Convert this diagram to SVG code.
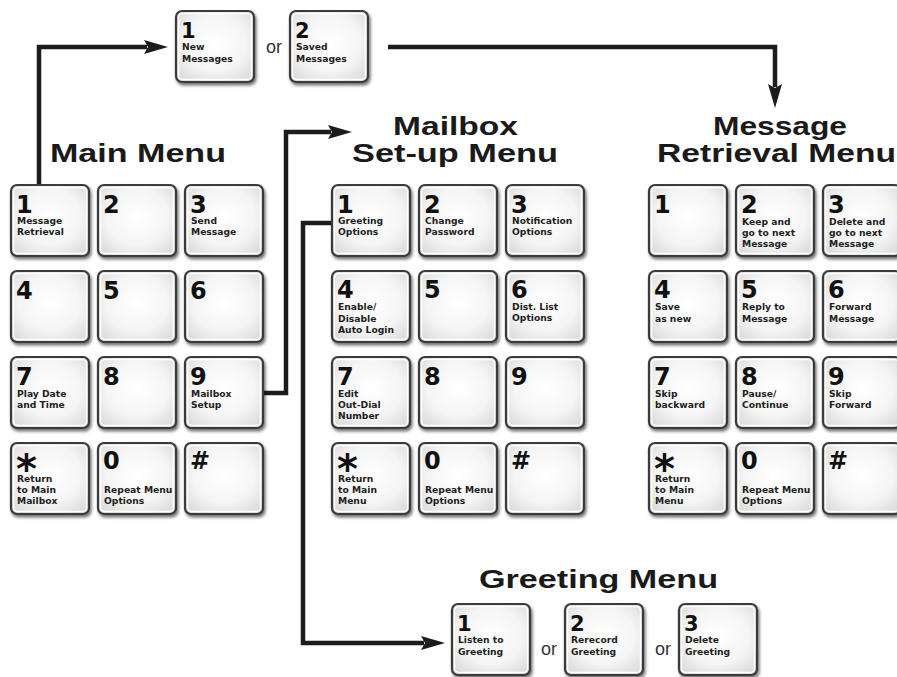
<svg xmlns="http://www.w3.org/2000/svg" xmlns:xlink="http://www.w3.org/1999/xlink" width="897" height="677" viewBox="0 0 897 677">
<defs>
<style>
.num{font-family:"DejaVu Sans","Liberation Sans",sans-serif;font-weight:bold;font-size:24px;fill:#111}
.snum{font-family:"DejaVu Sans","Liberation Sans",sans-serif;font-weight:bold;font-size:21px;fill:#111}
.ast{font-family:"DejaVu Sans","Liberation Sans",sans-serif;font-weight:bold;font-size:40px;fill:#111}
.lbl{font-family:"DejaVu Sans","Liberation Sans",sans-serif;font-weight:bold;font-size:9.2px;fill:#1e1e1e}
.title{font-family:"Liberation Sans",Arial,sans-serif;font-weight:bold;font-size:26.5px;fill:#1a1a1a}
.or{font-family:"Liberation Sans",Arial,sans-serif;font-size:18px;fill:#333}
.conn{fill:none;stroke:#1c1c1c;stroke-width:4.5;stroke-linejoin:miter}
</style>
<radialGradient id="kg" cx="0.5" cy="0.45" r="0.65">
<stop offset="0" stop-color="#ffffff"/>
<stop offset="0.6" stop-color="#f5f5f5"/>
<stop offset="1" stop-color="#dcdcdc"/>
</radialGradient>
<filter id="sh" x="-10%" y="-10%" width="130%" height="130%">
<feDropShadow dx="1.5" dy="2.5" stdDeviation="1.6" flood-color="#000" flood-opacity="0.55"/>
</filter>
<g id="keyshape">
<rect x="0" y="0" width="78" height="71" rx="6" fill="url(#kg)" stroke="#3a3a3a" stroke-width="2.2" filter="url(#sh)"/>
<rect x="2.6" y="2.6" width="72.8" height="65.8" rx="4" fill="none" stroke="#ffffff" stroke-width="1.2"/>
</g>
<marker id="ah" viewBox="0 0 24 14" markerWidth="24" markerHeight="14" refX="3" refY="7" orient="auto" markerUnits="userSpaceOnUse">
<path d="M0,0 L24,7 L0,14 L4,7 z" fill="#1c1c1c"/>
</marker>
</defs>
<rect width="897" height="677" fill="#ffffff"/>

<g id="connectors">
<path class="conn" d="M39,185 V47 H147" marker-end="url(#ah)"/>
<path class="conn" d="M388,47 H775 V87" marker-end="url(#ah)"/>
<path class="conn" d="M263,393 H286 V132 H331" marker-end="url(#ah)"/>
<path class="conn" d="M332,223 H303 V643 H424" marker-end="url(#ah)"/>
</g>

<g id="titles">
<text class="title" x="50" y="162" textLength="176" lengthAdjust="spacingAndGlyphs">Main Menu</text>
<text class="title" x="393" y="135" textLength="125" lengthAdjust="spacingAndGlyphs">Mailbox</text>
<text class="title" x="352" y="162" textLength="206" lengthAdjust="spacingAndGlyphs">Set-up Menu</text>
<text class="title" x="713" y="135" textLength="134" lengthAdjust="spacingAndGlyphs">Message</text>
<text class="title" x="657" y="162" textLength="239" lengthAdjust="spacingAndGlyphs">Retrieval Menu</text>
<text class="title" x="479" y="588" textLength="239" lengthAdjust="spacingAndGlyphs">Greeting Menu</text>
<text class="or" x="266" y="53">or</text>
<text class="or" x="541" y="655">or</text>
<text class="or" x="655" y="655">or</text>
</g>

<!-- top keys -->
<g id="top-new" transform="translate(176,11)"><use href="#keyshape"/><text class="snum" x="5" y="27">1</text><text class="lbl" x="6" y="39">New</text><text class="lbl" x="6" y="51">Messages</text></g>
<g id="top-saved" transform="translate(290,11)"><use href="#keyshape"/><text class="snum" x="5" y="27">2</text><text class="lbl" x="6" y="39">Saved</text><text class="lbl" x="6" y="51">Messages</text></g>

<!-- main menu -->
<g id="main-1" transform="translate(11,185)"><use href="#keyshape"/><text class="num" x="5" y="28">1</text><text class="lbl" x="6" y="39">Message</text><text class="lbl" x="6" y="50">Retrieval</text></g>
<g id="main-2" transform="translate(98,185)"><use href="#keyshape"/><text class="num" x="5" y="28">2</text></g>
<g id="main-3" transform="translate(185,185)"><use href="#keyshape"/><text class="num" x="5" y="28">3</text><text class="lbl" x="6" y="39">Send</text><text class="lbl" x="6" y="50">Message</text></g>
<g id="main-4" transform="translate(11,271)"><use href="#keyshape"/><text class="num" x="5" y="28">4</text></g>
<g id="main-5" transform="translate(98,271)"><use href="#keyshape"/><text class="num" x="5" y="28">5</text></g>
<g id="main-6" transform="translate(185,271)"><use href="#keyshape"/><text class="num" x="5" y="28">6</text></g>
<g id="main-7" transform="translate(11,357)"><use href="#keyshape"/><text class="num" x="5" y="28">7</text><text class="lbl" x="6" y="40">Play Date</text><text class="lbl" x="6" y="51">and Time</text></g>
<g id="main-8" transform="translate(98,357)"><use href="#keyshape"/><text class="num" x="5" y="28">8</text></g>
<g id="main-9" transform="translate(185,357)"><use href="#keyshape"/><text class="num" x="5" y="28">9</text><text class="lbl" x="6" y="40">Mailbox</text><text class="lbl" x="6" y="51">Setup</text></g>
<g id="main-star" transform="translate(11,443)"><use href="#keyshape"/><text class="ast" x="5" y="40">*</text><text class="lbl" x="6" y="39">Return</text><text class="lbl" x="6" y="50">to Main</text><text class="lbl" x="6" y="61">Mailbox</text></g>
<g id="main-0" transform="translate(98,443)"><use href="#keyshape"/><text class="num" x="5" y="26">0</text><text class="lbl" x="6" y="50">Repeat Menu</text><text class="lbl" x="6" y="61">Options</text></g>
<g id="main-hash" transform="translate(185,443)"><use href="#keyshape"/><text class="num" x="5" y="26">#</text></g>

<!-- mailbox set-up menu -->
<g id="mb-1" transform="translate(332,185)"><use href="#keyshape"/><text class="num" x="5" y="28">1</text><text class="lbl" x="6" y="39">Greeting</text><text class="lbl" x="6" y="50">Options</text></g>
<g id="mb-2" transform="translate(419,185)"><use href="#keyshape"/><text class="num" x="5" y="28">2</text><text class="lbl" x="6" y="39">Change</text><text class="lbl" x="6" y="50">Password</text></g>
<g id="mb-3" transform="translate(506,185)"><use href="#keyshape"/><text class="num" x="5" y="28">3</text><text class="lbl" x="6" y="39">Notification</text><text class="lbl" x="6" y="50">Options</text></g>
<g id="mb-4" transform="translate(332,271)"><use href="#keyshape"/><text class="num" x="5" y="27">4</text><text class="lbl" x="6" y="39">Enable/</text><text class="lbl" x="6" y="50.5">Disable</text><text class="lbl" x="6" y="62">Auto Login</text></g>
<g id="mb-5" transform="translate(419,271)"><use href="#keyshape"/><text class="num" x="5" y="27">5</text></g>
<g id="mb-6" transform="translate(506,271)"><use href="#keyshape"/><text class="num" x="5" y="27">6</text><text class="lbl" x="6" y="39">Dist. List</text><text class="lbl" x="6" y="50">Options</text></g>
<g id="mb-7" transform="translate(332,357)"><use href="#keyshape"/><text class="num" x="5" y="28">7</text><text class="lbl" x="6" y="40">Edit</text><text class="lbl" x="6" y="51">Out-Dial</text><text class="lbl" x="6" y="62">Number</text></g>
<g id="mb-8" transform="translate(419,357)"><use href="#keyshape"/><text class="num" x="5" y="28">8</text></g>
<g id="mb-9" transform="translate(506,357)"><use href="#keyshape"/><text class="num" x="5" y="28">9</text></g>
<g id="mb-star" transform="translate(332,443)"><use href="#keyshape"/><text class="ast" x="5" y="40">*</text><text class="lbl" x="6" y="39">Return</text><text class="lbl" x="6" y="50">to Main</text><text class="lbl" x="6" y="61">Menu</text></g>
<g id="mb-0" transform="translate(419,443)"><use href="#keyshape"/><text class="num" x="5" y="26">0</text><text class="lbl" x="6" y="50">Repeat Menu</text><text class="lbl" x="6" y="61">Options</text></g>
<g id="mb-hash" transform="translate(506,443)"><use href="#keyshape"/><text class="num" x="5" y="26">#</text></g>

<!-- message retrieval menu -->
<g id="mr-1" transform="translate(649,185)"><use href="#keyshape"/><text class="num" x="5" y="28">1</text></g>
<g id="mr-2" transform="translate(736,185)"><use href="#keyshape"/><text class="num" x="5" y="28">2</text><text class="lbl" x="6" y="40">Keep and</text><text class="lbl" x="6" y="51">go to next</text><text class="lbl" x="6" y="62">Message</text></g>
<g id="mr-3" transform="translate(823,185)"><use href="#keyshape"/><text class="num" x="5" y="28">3</text><text class="lbl" x="6" y="40">Delete and</text><text class="lbl" x="6" y="51">go to next</text><text class="lbl" x="6" y="62">Message</text></g>
<g id="mr-4" transform="translate(649,271)"><use href="#keyshape"/><text class="num" x="5" y="27">4</text><text class="lbl" x="6" y="39">Save</text><text class="lbl" x="6" y="51">as new</text></g>
<g id="mr-5" transform="translate(736,271)"><use href="#keyshape"/><text class="num" x="5" y="27">5</text><text class="lbl" x="6" y="39">Reply to</text><text class="lbl" x="6" y="51">Message</text></g>
<g id="mr-6" transform="translate(823,271)"><use href="#keyshape"/><text class="num" x="5" y="27">6</text><text class="lbl" x="6" y="39">Forward</text><text class="lbl" x="6" y="51">Message</text></g>
<g id="mr-7" transform="translate(649,357)"><use href="#keyshape"/><text class="num" x="5" y="28">7</text><text class="lbl" x="6" y="40">Skip</text><text class="lbl" x="6" y="51">backward</text></g>
<g id="mr-8" transform="translate(736,357)"><use href="#keyshape"/><text class="num" x="5" y="28">8</text><text class="lbl" x="6" y="40">Pause/</text><text class="lbl" x="6" y="51">Continue</text></g>
<g id="mr-9" transform="translate(823,357)"><use href="#keyshape"/><text class="num" x="5" y="28">9</text><text class="lbl" x="6" y="40">Skip</text><text class="lbl" x="6" y="51">Forward</text></g>
<g id="mr-star" transform="translate(649,443)"><use href="#keyshape"/><text class="ast" x="5" y="40">*</text><text class="lbl" x="6" y="39">Return</text><text class="lbl" x="6" y="50">to Main</text><text class="lbl" x="6" y="61">Menu</text></g>
<g id="mr-0" transform="translate(736,443)"><use href="#keyshape"/><text class="num" x="5" y="26">0</text><text class="lbl" x="6" y="50">Repeat Menu</text><text class="lbl" x="6" y="61">Options</text></g>
<g id="mr-hash" transform="translate(823,443)"><use href="#keyshape"/><text class="num" x="5" y="26">#</text></g>

<!-- greeting menu -->
<g id="gr-1" transform="translate(452,604)"><use href="#keyshape"/><text class="snum" x="5" y="27">1</text><text class="lbl" x="6" y="39">Listen to</text><text class="lbl" x="6" y="51">Greeting</text></g>
<g id="gr-2" transform="translate(565,604)"><use href="#keyshape"/><text class="snum" x="5" y="27">2</text><text class="lbl" x="6" y="39">Rerecord</text><text class="lbl" x="6" y="51">Greeting</text></g>
<g id="gr-3" transform="translate(679,604)"><use href="#keyshape"/><text class="snum" x="5" y="27">3</text><text class="lbl" x="6" y="39">Delete</text><text class="lbl" x="6" y="51">Greeting</text></g>
</svg>
